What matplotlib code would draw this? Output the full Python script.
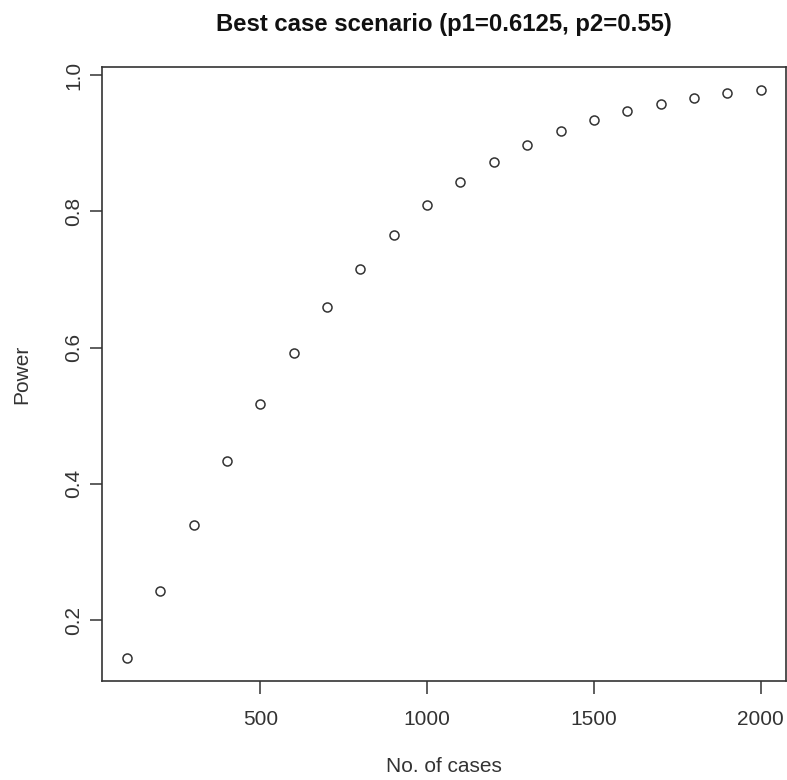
import matplotlib
matplotlib.use("Agg")
import matplotlib.pyplot as plt

plt.rcParams['font.family'] = ['Liberation Sans', 'DejaVu Sans']

cases = [100, 200, 300, 400, 500, 600, 700, 800, 900, 1000,
         1100, 1200, 1300, 1400, 1500, 1600, 1700, 1800, 1900, 2000]
power = [0.144, 0.243, 0.340, 0.433, 0.517, 0.592, 0.659, 0.716, 0.765, 0.809,
         0.843, 0.872, 0.898, 0.918, 0.934, 0.947, 0.958, 0.967, 0.973, 0.978]
xticks = [500, 1000, 1500, 2000]
yticks = [0.2, 0.4, 0.6, 0.8, 1.0]

W, H = 787, 780
fig = plt.figure(figsize=(W / 100, H / 100), dpi=100)
left, right, top, bottom = 101.5, 786, 67.3, 681
ax = fig.add_axes([left / W, 1 - bottom / H, (right - left) / W, (bottom - top) / H])

ax.plot(cases, power, linestyle='none', marker='o', markersize=6.5,
        markerfacecolor='none', markeredgecolor='#333333', markeredgewidth=1.1)

xr = max(cases) - min(cases)
yr = max(power) - min(power)
ax.set_xlim(min(cases) - 0.04 * xr, max(cases) + 0.04 * xr)
ax.set_ylim(min(power) - 0.04 * yr, max(power) + 0.04 * yr)

ax.set_xticks(xticks)
ax.set_xticklabels([str(t) for t in xticks])
ax.set_yticks(yticks)
ax.set_yticklabels([f"{t:.1f}" for t in yticks], rotation=90, va='center')

for s in ax.spines.values():
    s.set_linewidth(1.2)
    s.set_color('#333333')
ax.tick_params(axis='both', length=9, width=1.1, color='#333333',
               labelsize=15, labelcolor='#333333')
ax.tick_params(axis='x', pad=12)
ax.tick_params(axis='y', pad=4)

ax.set_xlabel('No. of cases', fontsize=15, color='#333333', labelpad=20)
ax.set_ylabel('Power', fontsize=15, color='#333333', labelpad=24)
ax.set_title('Best case scenario (p1=0.6125, p2=0.55)', fontsize=17.2,
             fontweight='bold', color='#111111', pad=26)

fig.savefig('out.png', dpi=100)
